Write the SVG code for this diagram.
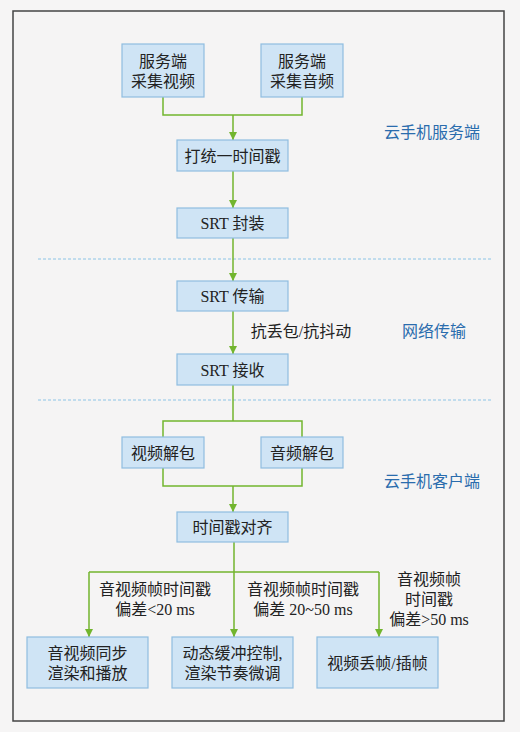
<svg xmlns="http://www.w3.org/2000/svg" width="520" height="732" viewBox="0 0 520 732">
<defs>
<style>
.box{fill:#cfe4f5;stroke:#8fbde0;stroke-width:1.2}
.t{font-family:"Liberation Serif","Noto Sans CJK SC",serif;font-size:16px;fill:#222;text-anchor:middle;dominant-baseline:central}
.lab{font-family:"Liberation Serif","Noto Sans CJK SC",serif;font-size:16px;fill:#2a6cad;text-anchor:middle;dominant-baseline:central}
.c{fill:none;stroke:#72b52e;stroke-width:1.5}
.dash{stroke:#8cc4e6;stroke-width:1;stroke-dasharray:3,2}
</style>
<marker id="ah" viewBox="0 0 10 10" refX="10" refY="5" markerWidth="8" markerHeight="8" markerUnits="userSpaceOnUse" orient="auto">
<path d="M0,0 L10,5 L0,10 Z" fill="#72b52e"/>
</marker>
</defs>
<rect x="0" y="0" width="520" height="732" fill="#f6f5f5"/>
<rect x="13" y="11" width="491" height="710" fill="#f5f4f4" stroke="#444" stroke-width="1.5"/>
<line class="dash" x1="38" y1="259" x2="491" y2="259"/>
<line class="dash" x1="38" y1="400" x2="491" y2="400"/>
<text class="lab" x="432" y="132">云手机服务端</text>
<text class="lab" x="434" y="331">网络传输</text>
<text class="lab" x="432" y="481">云手机客户端</text>
<g id="connectors">
<path class="c" d="M163,97 V115 H302 V97"/>
<path class="c" d="M233,115 V140" marker-end="url(#ah)"/>
<path class="c" d="M233,171 V208" marker-end="url(#ah)"/>
<path class="c" d="M233,238 V281" marker-end="url(#ah)"/>
<path class="c" d="M233,311 V354" marker-end="url(#ah)"/>
<path class="c" d="M233,385 V421"/>
<path class="c" d="M163,437 V421 H302 V437"/>
<path class="c" d="M163,468 V486 H302 V468"/>
<path class="c" d="M233,486 V512" marker-end="url(#ah)"/>
<path class="c" d="M234,542 V572"/>
<path class="c" d="M89,572 H379"/>
<path class="c" d="M89,572 V637" marker-end="url(#ah)"/>
<path class="c" d="M234,572 V637" marker-end="url(#ah)"/>
<path class="c" d="M379,572 V637" marker-end="url(#ah)"/>
<text class="t" x="301" y="331">抗丢包/抗抖动</text>
<text class="t" x="155" y="589">音视频帧时间戳</text>
<text class="t" x="155" y="609">偏差&lt;20 ms</text>
<text class="t" x="303" y="589">音视频帧时间戳</text>
<text class="t" x="303" y="609">偏差 20~50 ms</text>
<text class="t" x="429" y="579">音视频帧</text>
<text class="t" x="429" y="599">时间戳</text>
<text class="t" x="429" y="619">偏差&gt;50 ms</text>
</g>
<g id="n1"><rect class="box" x="122" y="44" width="82" height="53"/><text class="t" x="163" y="61">服务端</text><text class="t" x="163" y="81">采集视频</text></g>
<g id="n2"><rect class="box" x="261" y="44" width="82" height="53"/><text class="t" x="302" y="61">服务端</text><text class="t" x="302" y="81">采集音频</text></g>
<g id="n3"><rect class="box" x="177" y="140" width="111" height="31"/><text class="t" x="232.5" y="156">打统一时间戳</text></g>
<g id="n4"><rect class="box" x="177" y="208" width="111" height="30"/><text class="t" x="232.5" y="223">SRT 封装</text></g>
<g id="n5"><rect class="box" x="177" y="281" width="111" height="30"/><text class="t" x="232.5" y="296">SRT 传输</text></g>
<g id="n6"><rect class="box" x="177" y="354" width="111" height="31"/><text class="t" x="232.5" y="370">SRT 接收</text></g>
<g id="n7"><rect class="box" x="122" y="437" width="82" height="31"/><text class="t" x="163" y="453">视频解包</text></g>
<g id="n8"><rect class="box" x="261" y="437" width="82" height="31"/><text class="t" x="302" y="453">音频解包</text></g>
<g id="n9"><rect class="box" x="177" y="512" width="111" height="30"/><text class="t" x="232.5" y="527">时间戳对齐</text></g>
<g id="n10"><rect class="box" x="27" y="637" width="121" height="51"/><text class="t" x="87.5" y="653">音视频同步</text><text class="t" x="87.5" y="673">渲染和播放</text></g>
<g id="n11"><rect class="box" x="172" y="637" width="121" height="51"/><text class="t" x="232.5" y="653">动态缓冲控制,</text><text class="t" x="232.5" y="673">渲染节奏微调</text></g>
<g id="n12"><rect class="box" x="317" y="637" width="121" height="51"/><text class="t" x="377.5" y="663">视频丢帧/插帧</text></g>
</svg>
